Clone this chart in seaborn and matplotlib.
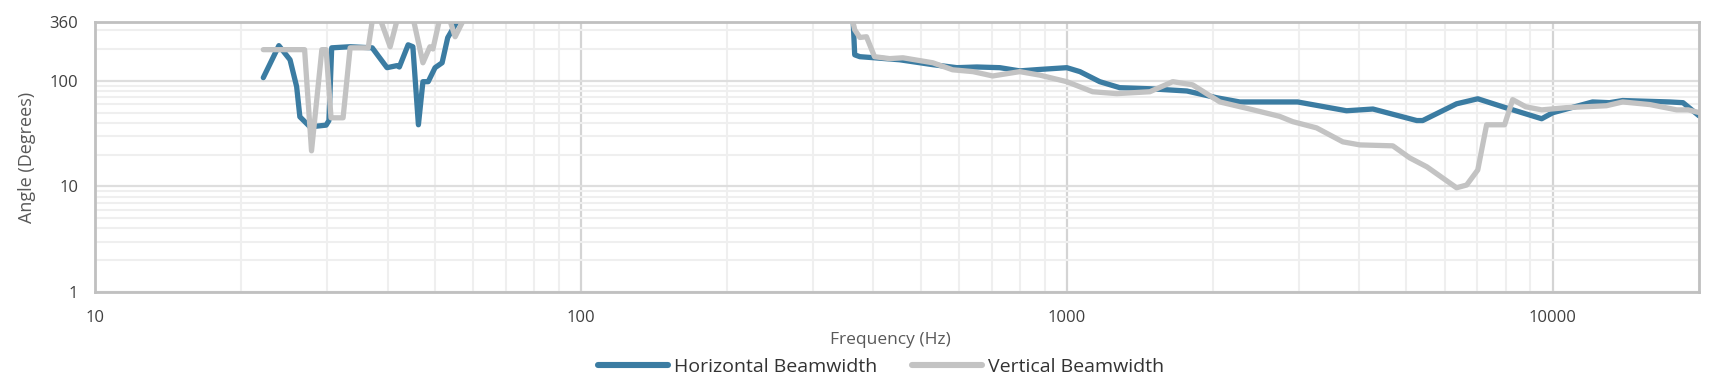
import matplotlib
matplotlib.use("Agg")
import matplotlib.pyplot as plt
import matplotlib.ticker as mticker
import seaborn as sns
import pandas as pd

# ---- data (400 = off the top of the scale) ----
h_freq = [22.2, 23.9, 25.2, 26.0, 26.4, 27.7, 29.9, 30.3, 30.7, 33.5, 37.2, 39.9, 41.8, 42.3,
          44.1, 45.1, 46.3, 47.3, 48.5, 50.1, 51.8, 53.2, 56.3, 363, 366, 375, 402, 453, 530,
          594, 653, 728, 800, 880, 1000, 1064, 1169, 1285, 1482, 1766, 2036, 2270, 2600, 2985,
          3764, 4266, 5250, 5400, 6340, 7010, 7890, 9490, 10000, 12080, 13090, 13930, 17400,
          18540, 20000]
h_angle = [107, 215, 158, 88, 45.6, 36.6, 38, 42, 205, 210, 205, 133, 139, 135,
           219, 210, 38.3, 98, 98, 133, 148, 256, 400, 400, 176, 169, 165, 158, 142,
           133, 135, 133, 124, 128, 133, 122, 98, 86, 84, 80, 69, 63, 63, 63,
           52, 54, 42, 42, 60.5, 67.5, 56.7, 43.7, 49.8, 63, 62, 65, 63,
           62, 46.6]

v_freq = [22.2, 27.0, 27.9, 29.3, 29.9, 30.6, 32.4, 33.5, 36.5, 37.3, 38.5, 40.5, 42.0, 45.1,
          47.3, 48.9, 49.6, 51.3, 53.5, 55.1, 57.7, 361, 366, 375, 387, 402, 432, 460, 530,
          582, 641, 704, 800, 880, 1000, 1130, 1267, 1482, 1652, 1815, 2065, 2380, 2742,
          2917, 3266, 3698, 4009, 4688, 5080, 5510, 6340, 6650, 7010, 7310, 7960, 8270,
          8800, 9490, 10640, 12900, 13930, 15850, 18000, 19000, 20000]
v_angle = [197, 197, 21.7, 197, 197, 44.6, 44.6, 205, 205, 400, 400, 210, 400, 400,
           148, 210, 200, 400, 400, 261, 400, 400, 304, 257, 261, 169, 162, 165, 148,
           127, 122, 111, 122, 113, 98, 78.7, 75.5, 78.7, 98, 91.5, 63, 54, 46,
           41, 35.8, 26.4, 24.7, 24.2, 18.6, 15.3, 9.7, 10.3, 14.3, 38.3, 38.3, 66.3,
           56.7, 53, 55.6, 58, 63, 59.5, 53, 53, 50]

series_names = ["Horizontal Beamwidth", "Vertical Beamwidth"]
x_ticks = [10, 100, 1000, 10000]
y_ticks = [1, 10, 100, 360]
x_label = "Frequency (Hz)"
y_label = "Angle (Degrees)"

df = pd.concat([
    pd.DataFrame({"freq": h_freq, "angle": h_angle, "series": series_names[0]}),
    pd.DataFrame({"freq": v_freq, "angle": v_angle, "series": series_names[1]}),
], ignore_index=True)

sns.set_theme(style="white")
plt.rcParams["font.family"] = ["Open Sans", "DejaVu Sans"]

fig = plt.figure(figsize=(17.2, 3.87), dpi=100)
ax = fig.add_axes([95 / 1720, 1 - 292 / 387, (1699 - 95) / 1720, (292 - 22) / 387])

palette = {series_names[0]: "#3b7ca2", series_names[1]: "#c3c3c3"}
sns.lineplot(data=df, x="freq", y="angle", hue="series", palette=palette,
             estimator=None, sort=False, linewidth=3.8, ax=ax, legend=True)
for ln in ax.lines:
    ln.set_solid_capstyle("round")
    ln.set_solid_joinstyle("round")

ax.set_xscale("log")
ax.set_yscale("log")
ax.set_xlim(10, 20000)
ax.set_ylim(1, 360)

ax.xaxis.set_major_locator(mticker.FixedLocator(x_ticks))
ax.xaxis.set_major_formatter(mticker.FixedFormatter([str(t) for t in x_ticks]))
ax.xaxis.set_minor_locator(mticker.LogLocator(base=10, subs=range(2, 10), numticks=20))
ax.xaxis.set_minor_formatter(mticker.NullFormatter())
ax.yaxis.set_major_locator(mticker.FixedLocator(y_ticks))
ax.yaxis.set_major_formatter(mticker.FixedFormatter([str(t) for t in y_ticks]))
ax.yaxis.set_minor_locator(mticker.LogLocator(base=10, subs=range(2, 10), numticks=20))
ax.yaxis.set_minor_formatter(mticker.NullFormatter())

ax.set_axisbelow(True)
ax.xaxis.grid(True, which="major", color="#d4d4d4", linewidth=1.6)
ax.yaxis.grid(True, which="major", color="#dedede", linewidth=1.6)
ax.grid(True, which="minor", color="#efefef", linewidth=1.5)

for s in ax.spines.values():
    s.set_color("#c0c0c0")
    s.set_linewidth(2.0)
    s.set_zorder(5)

ax.tick_params(axis="both", which="both", length=0, labelsize=12, labelcolor="#404040")
ax.tick_params(axis="x", pad=13)
ax.tick_params(axis="y", pad=12)

ax.set_xlabel(x_label, fontsize=12.5, color="#595959")
ax.xaxis.set_label_coords(0.496, -(340 - 292) / 270)
ax.xaxis.label.set_va("center")
ax.set_ylabel(y_label, fontsize=13, color="#595959")
ax.yaxis.set_label_coords(-(95 - 27) / 1604, 0.5)
ax.yaxis.label.set_va("center")

handles, labels = ax.get_legend_handles_labels()
leg = ax.legend(handles, labels, loc="center", bbox_to_anchor=(0.49, -(367 - 292) / 270),
                ncol=2, frameon=False, fontsize=14, handlelength=3.6, handletextpad=0.3,
                columnspacing=1.8)
for h in leg.get_lines():
    h.set_linewidth(4.4)
    h.set_solid_capstyle("round")
for t in leg.get_texts():
    t.set_color("#333333")

fig.savefig("out.png", dpi=100)
